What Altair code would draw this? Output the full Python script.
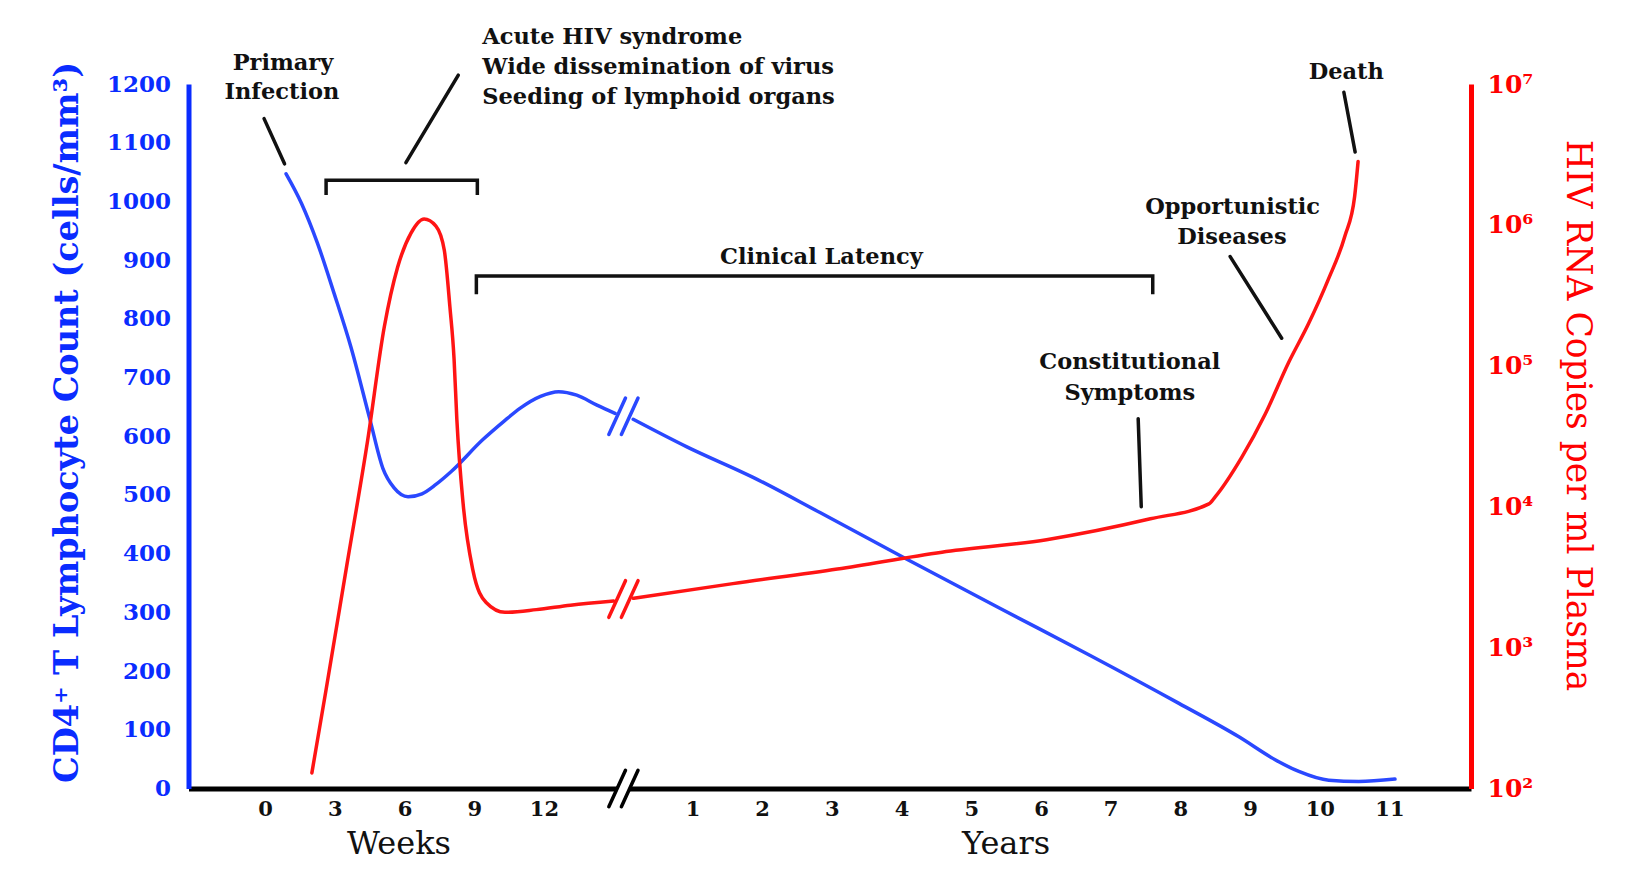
import altair as alt
import pandas as pd

# ---------------- data ----------------
BREAK = 5.13          # axis position of the weeks/years break (year 0)
week_ticks = [0, 3, 6, 9, 12]
year_ticks = list(range(1, 12))

# CD4+ T lymphocyte count (cells/mm3)
cd4_weeks = [0.9, 1.56, 2.25, 2.97, 3.69, 4.5, 5.07, 5.55, 6.15, 6.75, 7.35, 8.01,
             9.36, 10.26, 10.98, 11.85, 12.63, 13.41, 14.28, 15.06]
cd4_weeks_val = [1047, 997, 929, 843, 752, 630, 545, 512, 497, 502, 518, 540,
                 594, 625, 648, 668, 676, 670, 653, 639]
cd4_years = [0.15, 0.92, 1.87, 2.83, 4.07, 5.41, 6.70, 7.98, 8.84, 9.36, 9.70,
             10.13, 10.56, 11.08]
cd4_years_val = [629, 582, 530, 470, 391, 307, 227, 145, 88, 49, 29, 14, 12, 16]

# HIV RNA copies per ml plasma
rna_weeks = [2.01, 2.61, 3.51, 4.41, 5.13, 5.70, 6.27, 6.84, 7.35, 7.71, 7.95,
             8.13, 8.25, 8.52, 8.94, 9.51, 10.32, 11.67, 13.14, 15.0]
rna_weeks_val = [129, 490, 3800, 29500, 190000, 500000, 870000, 1100000, 980000,
                 660000, 263000, 112000, 41700, 10500, 3550, 2090, 1780, 1860,
                 2000, 2140]
rna_years = [0.15, 1.58, 3.08, 4.58, 6.08, 7.57, 8.41, 8.50, 8.88, 9.22, 9.55,
             9.84, 10.12, 10.36, 10.50, 10.55]
rna_years_val = [2240, 2845, 3614, 4753, 5834, 8204, 10470, 11750, 22390, 45700,
                 104700, 199500, 407400, 831800, 1585000, 2818000]

rna_exponents = [2, 3, 4, 5, 6, 7]
cd4_ticks = list(range(0, 1300, 100))

# annotations (axis position, CD4-scale height)
center_text = ["Primary", "Infection", "Clinical Latency", "Constitutional",
               "Symptoms", "Opportunistic", "Diseases", "Death"]
center_pos = [0.255, 0.24, 7.98, 12.405, 12.405, 13.88, 13.87, 15.51]
center_val = [1236, 1186, 906, 726, 674, 991, 940, 1220]

left_text = ["Acute HIV syndrome", "Wide dissemination of virus",
             "Seeding of lymphoid organs"]
left_pos = [3.115, 3.115, 3.115]
left_val = [1280, 1229, 1178]

# pointer lines: (pos1, val1, pos2, val2)
pointer_p1 = [-0.016, 2.771, 15.476, 13.845, 12.525]
pointer_v1 = [1141, 1215, 1186, 906, 630]
pointer_p2 = [0.278, 2.019, 15.638, 14.584, 12.569]
pointer_v2 = [1064, 1066, 1084, 767, 480]

# brackets: start pos, end pos, top, bottom (CD4 scale)
bracket_start = [0.874, 3.03]
bracket_end = [3.044, 12.734]
bracket_top = [1036, 873]
bracket_bottom = [1011, 842]

axis_titles = ["Weeks", "Years"]
axis_title_pos = [1.92, 10.63]
axis_title_val = [-94.5, -94.5]

# break marks
slash_x = [5.05, 5.23]

# ---------------- styling ----------------
BLUE_LINE = "#2a48ff"
BLUE_AXIS = "#0a2cff"
RED_LINE = "#ff1414"
RED_AXIS = "#ff0000"
INK = "#111111"
FONT = "DejaVu Serif"

W, H = 1282.5, 704.5

xscale = alt.Scale(domain=[-1.1, 17.3], nice=False, zero=False)
yblue = alt.Scale(domain=[0, 1200], nice=False, zero=False)
yred = alt.Scale(type="log", domain=[100, 1e7], nice=False)

tick_pos = [w / 3 for w in week_ticks] + [BREAK + y for y in year_ticks]

xaxis = alt.Axis(
    values=tick_pos,
    labelExpr=f"datum.value < 5 ? '' + round(datum.value * 3) : '' + round(datum.value - {BREAK})",
    title=None, grid=False, ticks=False, tickSize=0,
    domainColor="black", domainWidth=5,
    labelFont=FONT, labelFontSize=21, labelFontWeight="bold", labelColor=INK,
    labelPadding=21, labelBaseline="middle", labelFlush=False, labelOverlap=False,
)

sup = {2: "²", 3: "³", 4: "⁴", 5: "⁵", 6: "⁶", 7: "⁷"}
expr = "''"
for e in reversed(rna_exponents):
    expr = f"round(log(datum.value)/LN10) == {e} ? '10{sup[e]}' : ({expr})"

yaxis_blue = alt.Axis(
    orient="left", values=cd4_ticks, format="d", grid=False, ticks=False, tickSize=0,
    domainColor=BLUE_AXIS, domainWidth=5,
    labelFont=FONT, labelFontSize=23, labelFontWeight="bold", labelColor=BLUE_AXIS,
    labelPadding=18, labelFlush=False, labelOverlap=False,
    title="CD4⁺ T Lymphocyte Count (cells/mm³)",
    titleFont=FONT, titleFontSize=33.5, titleFontWeight="bold", titleColor=BLUE_AXIS,
    titleAngle=270, titleX=-121, titleY=338, titleAlign="center", titleBaseline="middle",
)

yaxis_red = alt.Axis(
    orient="right", values=[10 ** e for e in rna_exponents], labelExpr=expr,
    grid=False, ticks=False, tickSize=0,
    domainColor=RED_AXIS, domainWidth=5,
    labelFont=FONT, labelFontSize=25, labelFontWeight="bold", labelColor=RED_AXIS,
    labelPadding=16, labelFlush=False, labelOverlap=False,
    title="HIV RNA Copies per ml Plasma",
    titleFont=FONT, titleFontSize=34.5, titleFontWeight="normal", titleColor=RED_AXIS,
    titleAngle=90, titleX=105, titleY=331, titleAlign="center", titleBaseline="middle",
)

# ---------------- tables ----------------
blue_df = pd.DataFrame({
    "pos": [w / 3 for w in cd4_weeks] + [BREAK + y for y in cd4_years],
    "val": cd4_weeks_val + cd4_years_val,
    "seg": ["a"] * len(cd4_weeks) + ["b"] * len(cd4_years),
})
red_df = pd.DataFrame({
    "pos": [w / 3 for w in rna_weeks] + [BREAK + y for y in rna_years],
    "val": rna_weeks_val + rna_years_val,
    "seg": ["a"] * len(rna_weeks) + ["b"] * len(rna_years),
})
ctext_df = pd.DataFrame({"pos": center_pos, "val": center_val, "text": center_text})
ltext_df = pd.DataFrame({"pos": left_pos, "val": left_val, "text": left_text})
ptr_df = pd.DataFrame({"pos": pointer_p1, "val": pointer_v1, "p2": pointer_p2, "v2": pointer_v2})

brows = []
for i, (s, e, t, b) in enumerate(zip(bracket_start, bracket_end, bracket_top, bracket_bottom)):
    for k, (p, v) in enumerate([(s, b), (s, t), (e, t), (e, b)]):
        brows.append({"id": i, "k": k, "pos": p, "val": v})
br_df = pd.DataFrame(brows)
at_df = pd.DataFrame({"pos": axis_title_pos, "val": axis_title_val, "text": axis_titles})

DX = 0.239
blue_c, red_c = 634, 2213
slash_blue = pd.DataFrame({"pos": [x - DX / 2 for x in slash_x], "p2": [x + DX / 2 for x in slash_x],
                           "val": [blue_c - 31] * 2, "v2": [blue_c + 31] * 2})
slash_axis = pd.DataFrame({"pos": [x - DX / 2 for x in slash_x], "p2": [x + DX / 2 for x in slash_x],
                           "val": [-31] * 2, "v2": [31] * 2})
RF = 10 ** 0.13
slash_red = pd.DataFrame({"pos": [x - DX / 2 for x in slash_x], "p2": [x + DX / 2 for x in slash_x],
                          "val": [red_c / RF] * 2, "v2": [red_c * RF] * 2})
gap_df = pd.DataFrame({"pos": [slash_x[0]], "p2": [slash_x[1]], "val": [0]})

# ---------------- layers ----------------
XE = alt.X("pos:Q", scale=xscale, axis=xaxis)
YB = alt.Y("val:Q", scale=yblue, axis=yaxis_blue)
YR = alt.Y("val:Q", scale=yred, axis=yaxis_red)

blue_line = alt.Chart(blue_df).mark_line(
    color=BLUE_LINE, strokeWidth=3.5, interpolate="monotone", strokeCap="round"
).encode(x=XE, y=YB, detail="seg:N")

ctext = alt.Chart(ctext_df).mark_text(
    font=FONT, fontSize=22.5, fontWeight="bold", color=INK, align="center", baseline="middle"
).encode(x=XE, y=YB, text="text:N")

ltext = alt.Chart(ltext_df).mark_text(
    font=FONT, fontSize=22.5, fontWeight="bold", color=INK, align="left", baseline="middle"
).encode(x=XE, y=YB, text="text:N")

attext = alt.Chart(at_df).mark_text(
    font=FONT, fontSize=32, color=INK, align="center", baseline="middle"
).encode(x=XE, y=YB, text="text:N")

pointers = alt.Chart(ptr_df).mark_rule(color=INK, strokeWidth=3.5, strokeCap="round").encode(
    x=XE, x2="p2:Q", y=YB, y2="v2:Q"
)

brackets = alt.Chart(br_df).mark_line(color=INK, strokeWidth=3.5, strokeJoin="miter").encode(
    x=XE, y=YB, detail="id:N", order="k:Q"
)

gap = alt.Chart(gap_df).mark_rule(color="white", strokeWidth=10).encode(
    x=XE, x2="p2:Q", y=YB
)

sl_blue = alt.Chart(slash_blue).mark_rule(color=BLUE_LINE, strokeWidth=3.5, strokeCap="round").encode(
    x=XE, x2="p2:Q", y=YB, y2="v2:Q"
)
sl_axis = alt.Chart(slash_axis).mark_rule(color="black", strokeWidth=3.5, strokeCap="round").encode(
    x=XE, x2="p2:Q", y=YB, y2="v2:Q"
)

red_line = alt.Chart(red_df).mark_line(
    color=RED_LINE, strokeWidth=3.5, interpolate="monotone", strokeCap="round"
).encode(x=XE, y=YR, detail="seg:N")
sl_red = alt.Chart(slash_red).mark_rule(color=RED_LINE, strokeWidth=3.5, strokeCap="round").encode(
    x=XE, x2="p2:Q", y=YR, y2="v2:Q"
)

blue_group = alt.layer(blue_line, brackets, pointers, ctext, ltext, attext, gap, sl_axis, sl_blue)
red_group = alt.layer(red_line, sl_red)

chart = alt.layer(blue_group, red_group).resolve_scale(y="independent").properties(
    width=W, height=H,
    autosize=alt.AutoSizeParams(type="none"),
    padding={"left": 180.5, "top": 76, "right": 157, "bottom": 75.5},
    background="white",
).configure(font=FONT).configure_view(stroke=None)

chart.save("out.html", embed_options={"renderer": "svg", "actions": False})
